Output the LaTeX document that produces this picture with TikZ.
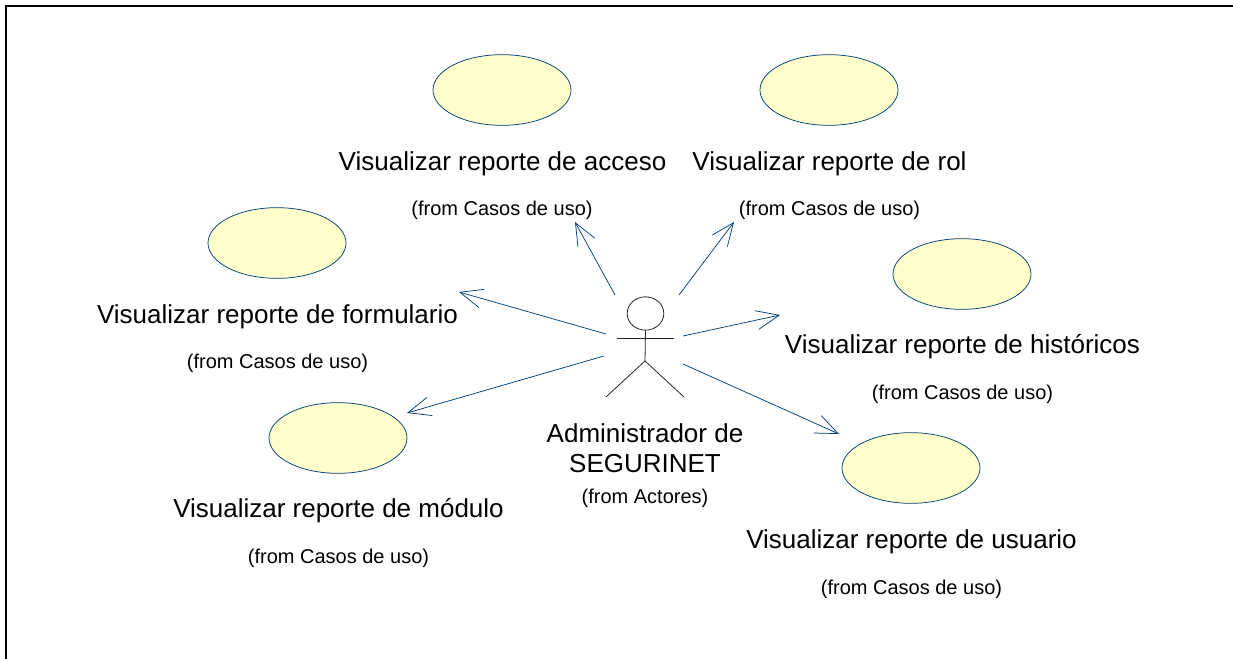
\documentclass[tikz,border=0pt]{standalone}
\usepackage{fontspec}
\setmainfont{Liberation Sans}
\usetikzlibrary{arrows.meta,shapes.geometric}

\definecolor{usefill}{RGB}{255,255,204}
\definecolor{useline}{RGB}{0,60,120}

\tikzset{
  usecase/.style={ellipse,draw=useline,fill=usefill,line width=0.55pt,minimum width=103.5pt,minimum height=53pt,inner sep=0pt},
  uselabel/.style={font=\fontsize{19.5}{22.5}\selectfont,inner sep=0pt},
  fromlabel/.style={font=\fontsize{15}{17}\selectfont,inner sep=0pt},
  assoc/.style={draw=useline,line width=0.55pt,-{Straight Barb[length=17pt,width=14.25pt,line width=0.55pt]}},
  actorline/.style={draw=black!85,line width=0.6pt}
}

\begin{document}
\begin{tikzpicture}[x=0.75pt,y=-0.75pt]
	\useasboundingbox (0,0) rectangle (1233,659);
	\coordinate (corner) at (6,6);
	\coordinate (topend) at (1233,6);
	\coordinate (leftend) at (6,659);
	\draw [line width=1.7pt] (topend) -- (corner) -- (leftend);

	% casos de uso
	\node [usecase] (acceso) at (502,90) {};
	\node [uselabel] (accesol) at (502.5,164) {Visualizar reporte de acceso};
	\node [fromlabel] (accesof) at (502,210) {(from Casos de uso)};

	\node [usecase] (rol) at (829,90) {};
	\node [uselabel] (roll) at (829.5,164) {Visualizar reporte de rol};
	\node [fromlabel] (rolf) at (829.5,210) {(from Casos de uso)};

	\node [usecase] (formulario) at (277,243) {};
	\node [uselabel] (formulariol) at (277.5,317) {Visualizar reporte de formulario};
	\node [fromlabel] (formulariof) at (277.5,363) {(from Casos de uso)};

	\node [usecase] (historicos) at (962,274) {};
	\node [uselabel] (historicosl) at (962.5,347) {Visualizar reporte de históricos};
	\node [fromlabel] (historicosf) at (962.5,394) {(from Casos de uso)};

	\node [usecase] (modulo) at (338,438) {};
	\node [uselabel] (modulol) at (338.5,511) {Visualizar reporte de módulo};
	\node [fromlabel] (modulof) at (338.5,558) {(from Casos de uso)};

	\node [usecase] (usuario) at (911,468) {};
	\node [uselabel] (usuariol) at (911.5,542) {Visualizar reporte de usuario};
	\node [fromlabel] (usuariof) at (911.5,589) {(from Casos de uso)};

	% actor
	\node [ellipse,actorline,minimum width=27.5pt,minimum height=25pt,inner sep=0pt] (head) at (645.5,313.5) {};
	\coordinate (hand1) at (616.5,338);
	\coordinate (hand2) at (673.5,338);
	\coordinate (hip) at (645,361);
	\coordinate (foot1) at (606,397);
	\coordinate (foot2) at (684,397);
	\draw [actorline] (head.south) -- (hip);
	\draw [actorline] (hand1) -- (hand2);
	\draw [actorline] (foot1) -- (hip) -- (foot2);
	\node [uselabel,align=center] (actorl) at (645,448) {Administrador de~\\SEGURINET};
	\node [fromlabel] (actorf) at (645,498) {(from Actores)};

	% asociaciones
	\coordinate (a1) at (615,295);
	\coordinate (a2) at (679,295);
	\coordinate (a3) at (606,334);
	\coordinate (a4) at (683,336);
	\coordinate (a5) at (604,356);
	\coordinate (a6) at (683,364);
	\coordinate (t1) at (575,222);
	\coordinate (t2) at (734,222);
	\coordinate (t3) at (459,292);
	\coordinate (t4) at (780,315);
	\coordinate (t5) at (407,413);
	\coordinate (t6) at (839,434);
	\draw [assoc] (a1) -- (t1);
	\draw [assoc] (a2) -- (t2);
	\draw [assoc] (a3) -- (t3);
	\draw [assoc] (a4) -- (t4);
	\draw [assoc] (a5) -- (t5);
	\draw [assoc] (a6) -- (t6);
\end{tikzpicture}
\end{document}
